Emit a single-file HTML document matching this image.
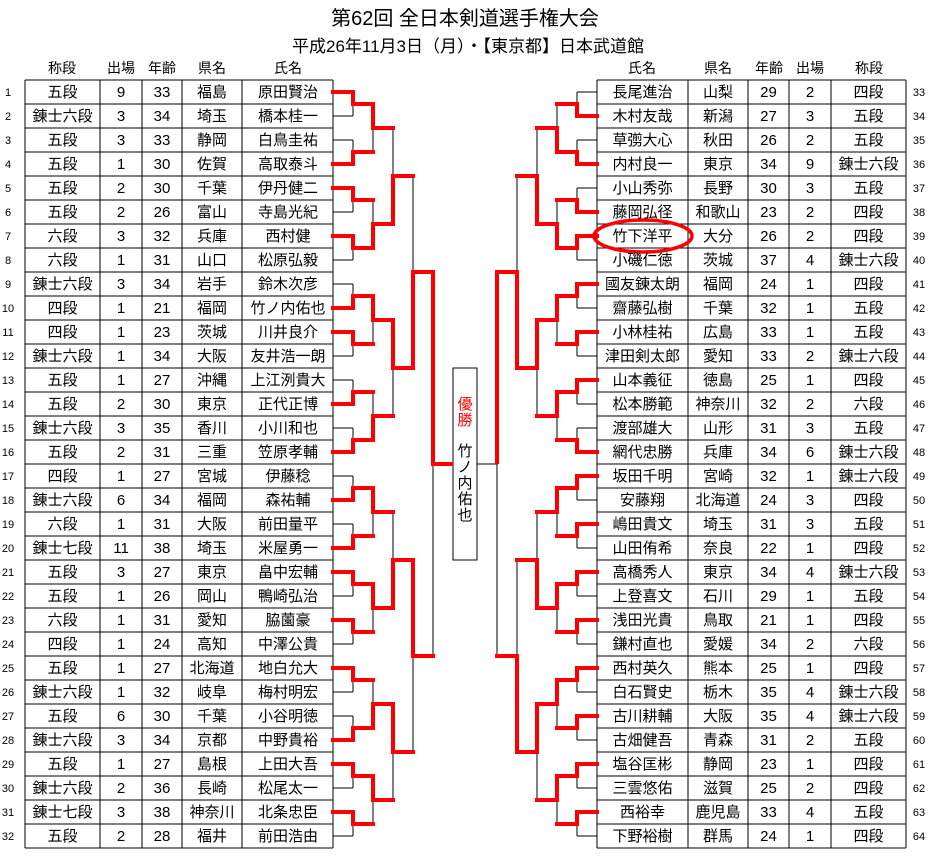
<!DOCTYPE html>
<html><head><meta charset="utf-8"><style>
html,body{margin:0;padding:0;background:#fff;}
svg{display:block;}
text{font-family:"Liberation Sans","Noto Sans CJK JP",sans-serif;}
</style></head><body>
<svg width="930" height="866" viewBox="0 0 930 866" xmlns="http://www.w3.org/2000/svg">
<text x="465" y="25" font-size="20" text-anchor="middle">第62回 全日本剣道選手権大会</text>
<text x="468" y="52" font-size="17" text-anchor="middle">平成26年11月3日（月）・【東京都】日本武道館</text>

<g font-size="14" text-anchor="middle">
<text x="62" y="73">称段</text><text x="121" y="73">出場</text><text x="162" y="73">年齢</text><text x="212" y="73">県名</text><text x="288" y="73">氏名</text>
<text x="642" y="73">氏名</text><text x="718" y="73">県名</text><text x="769" y="73">年齢</text><text x="810" y="73">出場</text><text x="869" y="73">称段</text>
</g>

<g stroke="#000" stroke-width="1" fill="none" shape-rendering="crispEdges">
<path d="M25 80h308m-308 24h308m-308 24h308m-308 24h308m-308 24h308m-308 24h308m-308 24h308m-308 24h308m-308 24h308m-308 24h308m-308 24h308m-308 24h308m-308 24h308m-308 24h308m-308 24h308m-308 24h308m-308 24h308m-308 24h308m-308 24h308m-308 24h308m-308 24h308m-308 24h308m-308 24h308m-308 24h308m-308 24h308m-308 24h308m-308 24h308m-308 24h308m-308 24h308m-308 24h308m-308 24h308m-308 24h308m-308 24h308"/>
<path d="M25 80V848M100 80V848M142 80V848M182 80V848M242 80V848M333 80V848"/>
<path d="M597 80h309m-309 24h309m-309 24h309m-309 24h309m-309 24h309m-309 24h309m-309 24h309m-309 24h309m-309 24h309m-309 24h309m-309 24h309m-309 24h309m-309 24h309m-309 24h309m-309 24h309m-309 24h309m-309 24h309m-309 24h309m-309 24h309m-309 24h309m-309 24h309m-309 24h309m-309 24h309m-309 24h309m-309 24h309m-309 24h309m-309 24h309m-309 24h309m-309 24h309m-309 24h309m-309 24h309m-309 24h309m-309 24h309"/>
<path d="M597 80V848M688 80V848M748 80V848M789 80V848M831 80V848M906 80V848"/>
<path d="M333 92h20m-20 24h20m-20 24h20m-20 24h20m-20 24h20m-20 24h20m-20 24h20m-20 24h20m-20 24h20m-20 24h20m-20 24h20m-20 24h20m-20 24h20m-20 24h20m-20 24h20m-20 24h20m-20 24h20m-20 24h20m-20 24h20m-20 24h20m-20 24h20m-20 24h20m-20 24h20m-20 24h20m-20 24h20m-20 24h20m-20 24h20m-20 24h20m-20 24h20m-20 24h20m-20 24h20m-20 24h20"/>
<path d="M353 92V116M353 140V164M353 188V212M353 236V260M353 284V308M353 332V356M353 380V404M353 428V452M353 476V500M353 524V548M353 572V596M353 620V644M353 668V692M353 716V740M353 764V788M353 812V836"/>
<path d="M373 104V152M373 200V248M373 296V344M373 392V440M373 488V536M373 584V632M373 680V728M373 776V824"/>
<path d="M393 128V224M393 320V416M393 512V608M393 704V800M413 176V368M413 560V752M433 272V656"/>
<path d="M577 92h20m-20 24h20m-20 24h20m-20 24h20m-20 24h20m-20 24h20m-20 24h20m-20 24h20m-20 24h20m-20 24h20m-20 24h20m-20 24h20m-20 24h20m-20 24h20m-20 24h20m-20 24h20m-20 24h20m-20 24h20m-20 24h20m-20 24h20m-20 24h20m-20 24h20m-20 24h20m-20 24h20m-20 24h20m-20 24h20m-20 24h20m-20 24h20m-20 24h20m-20 24h20m-20 24h20m-20 24h20"/>
<path d="M577 92V116M577 140V164M577 188V212M577 236V260M577 284V308M577 332V356M577 380V404M577 428V452M577 476V500M577 524V548M577 572V596M577 620V644M577 668V692M577 716V740M577 764V788M577 812V836"/>
<path d="M557 104V152M557 200V248M557 296V344M557 392V440M557 488V536M557 584V632M557 680V728M557 776V824"/>
<path d="M537 128V224M537 320V416M537 512V608M537 704V800M517 176V368M517 560V752M497 272V656"/>
<path d="M477 464H497"/>
<rect x="453" y="368" width="24" height="192" fill="#fff"/>
</g>

<g stroke="#ff0000" stroke-width="4" fill="none" stroke-linecap="square">
<path d="M333 92H353V104H373M333 164H353V152H373M333 188H353V200H373M333 236H353V248H373M333 308H353V296H373M333 332H353V344H373M333 404H353V392H373M333 452H353V440H373M333 500H353V488H373M333 548H353V536H373M333 572H353V584H373M333 620H353V632H373M333 668H353V680H373M333 740H353V728H373M333 764H353V776H373M333 812H353V824H373"/>
<path d="M373 104V128H393M373 248V224H393M373 296V320H393M373 440V416H393M373 488V512H393M373 584V608H393M373 728V704H393M373 776V800H393"/>
<path d="M393 224V176H413M393 320V368H413M393 608V560H413M393 704V752H413"/>
<path d="M413 368V272H433M413 560V656H433"/>
<path d="M433 272V464H451"/>
<path d="M597 116H577V104H557M597 164H577V152H557M597 212H577V200H557M597 236H577V248H557M597 284H577V296H557M597 332H577V344H557M597 380H577V392H557M597 452H577V440H557M597 476H577V488H557M597 524H577V536H557M597 572H577V584H557M597 620H577V632H557M597 668H577V680H557M597 716H577V728H557M597 764H577V776H557M597 812H577V824H557"/>
<path d="M557 152V128H537M557 248V224H537M557 296V320H537M557 392V416H537M557 488V512H537M557 584V608H537M557 680V704H537M557 776V800H537"/>
<path d="M537 224V176H517M537 320V368H517M537 608V560H517M537 704V752H517"/>
<path d="M517 368V272H497M517 752V656H497"/>
<path d="M497 272V462"/>
</g>
<ellipse cx="643" cy="236" rx="49" ry="16" fill="none" stroke="#ff0000" stroke-width="3.5"/>

<g font-size="15" text-anchor="middle">
<text x="465" y="409" fill="#ff0000">優</text>
<text x="465" y="425" fill="#ff0000">勝</text>
<text x="465" y="456">竹</text>
<text x="465" y="472">ノ</text>
<text x="465" y="488">内</text>
<text x="465" y="504">佑</text>
<text x="465" y="520">也</text>
</g>

<g font-size="11" text-anchor="middle">
<text x="8" y="96">1</text><text x="8" y="120">2</text><text x="8" y="144">3</text><text x="8" y="168">4</text><text x="8" y="192">5</text><text x="8" y="216">6</text><text x="8" y="240">7</text><text x="8" y="264">8</text><text x="8" y="288">9</text><text x="8" y="312">10</text><text x="8" y="336">11</text><text x="8" y="360">12</text><text x="8" y="384">13</text><text x="8" y="408">14</text><text x="8" y="432">15</text><text x="8" y="456">16</text><text x="8" y="480">17</text><text x="8" y="504">18</text><text x="8" y="528">19</text><text x="8" y="552">20</text><text x="8" y="576">21</text><text x="8" y="600">22</text><text x="8" y="624">23</text><text x="8" y="648">24</text><text x="8" y="672">25</text><text x="8" y="696">26</text><text x="8" y="720">27</text><text x="8" y="744">28</text><text x="8" y="768">29</text><text x="8" y="792">30</text><text x="8" y="816">31</text><text x="8" y="840">32</text>
<text x="919" y="96">33</text><text x="919" y="120">34</text><text x="919" y="144">35</text><text x="919" y="168">36</text><text x="919" y="192">37</text><text x="919" y="216">38</text><text x="919" y="240">39</text><text x="919" y="264">40</text><text x="919" y="288">41</text><text x="919" y="312">42</text><text x="919" y="336">43</text><text x="919" y="360">44</text><text x="919" y="384">45</text><text x="919" y="408">46</text><text x="919" y="432">47</text><text x="919" y="456">48</text><text x="919" y="480">49</text><text x="919" y="504">50</text><text x="919" y="528">51</text><text x="919" y="552">52</text><text x="919" y="576">53</text><text x="919" y="600">54</text><text x="919" y="624">55</text><text x="919" y="648">56</text><text x="919" y="672">57</text><text x="919" y="696">58</text><text x="919" y="720">59</text><text x="919" y="744">60</text><text x="919" y="768">61</text><text x="919" y="792">62</text><text x="919" y="816">63</text><text x="919" y="840">64</text>
</g>

<g font-size="15" text-anchor="middle">
<g transform="translate(62.5,0)">
<text y="97">五段</text><text y="121">錬士六段</text><text y="145">五段</text><text y="169">五段</text><text y="193">五段</text><text y="217">五段</text><text y="241">六段</text><text y="265">六段</text><text y="289">錬士六段</text><text y="313">四段</text><text y="337">四段</text><text y="361">錬士六段</text><text y="385">五段</text><text y="409">五段</text><text y="433">錬士六段</text><text y="457">五段</text><text y="481">四段</text><text y="505">錬士六段</text><text y="529">六段</text><text y="553">錬士七段</text><text y="577">五段</text><text y="601">五段</text><text y="625">六段</text><text y="649">四段</text><text y="673">五段</text><text y="697">錬士六段</text><text y="721">五段</text><text y="745">錬士六段</text><text y="769">五段</text><text y="793">錬士六段</text><text y="817">錬士七段</text><text y="841">五段</text>
</g>
<g transform="translate(121,0)">
<text y="97">9</text><text y="121">3</text><text y="145">3</text><text y="169">1</text><text y="193">2</text><text y="217">2</text><text y="241">3</text><text y="265">1</text><text y="289">3</text><text y="313">1</text><text y="337">1</text><text y="361">1</text><text y="385">1</text><text y="409">2</text><text y="433">3</text><text y="457">2</text><text y="481">1</text><text y="505">6</text><text y="529">1</text><text y="553">11</text><text y="577">3</text><text y="601">1</text><text y="625">1</text><text y="649">1</text><text y="673">1</text><text y="697">1</text><text y="721">6</text><text y="745">3</text><text y="769">1</text><text y="793">2</text><text y="817">3</text><text y="841">2</text>
</g>
<g transform="translate(162,0)">
<text y="97">33</text><text y="121">34</text><text y="145">33</text><text y="169">30</text><text y="193">30</text><text y="217">26</text><text y="241">32</text><text y="265">31</text><text y="289">34</text><text y="313">21</text><text y="337">23</text><text y="361">34</text><text y="385">27</text><text y="409">30</text><text y="433">35</text><text y="457">31</text><text y="481">27</text><text y="505">34</text><text y="529">31</text><text y="553">38</text><text y="577">27</text><text y="601">26</text><text y="625">31</text><text y="649">24</text><text y="673">27</text><text y="697">32</text><text y="721">30</text><text y="745">34</text><text y="769">27</text><text y="793">36</text><text y="817">38</text><text y="841">28</text>
</g>
<g transform="translate(212,0)">
<text y="97">福島</text><text y="121">埼玉</text><text y="145">静岡</text><text y="169">佐賀</text><text y="193">千葉</text><text y="217">富山</text><text y="241">兵庫</text><text y="265">山口</text><text y="289">岩手</text><text y="313">福岡</text><text y="337">茨城</text><text y="361">大阪</text><text y="385">沖縄</text><text y="409">東京</text><text y="433">香川</text><text y="457">三重</text><text y="481">宮城</text><text y="505">福岡</text><text y="529">大阪</text><text y="553">埼玉</text><text y="577">東京</text><text y="601">岡山</text><text y="625">愛知</text><text y="649">高知</text><text y="673">北海道</text><text y="697">岐阜</text><text y="721">千葉</text><text y="745">京都</text><text y="769">島根</text><text y="793">長崎</text><text y="817">神奈川</text><text y="841">福井</text>
</g>
<g transform="translate(288,0)">
<text y="97">原田賢治</text><text y="121">橋本桂一</text><text y="145">白鳥圭祐</text><text y="169">高取泰斗</text><text y="193">伊丹健二</text><text y="217">寺島光紀</text><text y="241">西村健</text><text y="265">松原弘毅</text><text y="289">鈴木次彦</text><text y="313">竹ノ内佑也</text><text y="337">川井良介</text><text y="361">友井浩一朗</text><text y="385">上江洌貴大</text><text y="409">正代正博</text><text y="433">小川和也</text><text y="457">笠原孝輔</text><text y="481">伊藤稔</text><text y="505">森祐輔</text><text y="529">前田量平</text><text y="553">米屋勇一</text><text y="577">畠中宏輔</text><text y="601">鴨崎弘治</text><text y="625">脇薗豪</text><text y="649">中澤公貴</text><text y="673">地白允大</text><text y="697">梅村明宏</text><text y="721">小谷明徳</text><text y="745">中野貴裕</text><text y="769">上田大吾</text><text y="793">松尾太一</text><text y="817">北条忠臣</text><text y="841">前田浩由</text>
</g>
<g transform="translate(642.5,0)">
<text y="97">長尾進治</text><text y="121">木村友哉</text><text y="145">草彅大心</text><text y="169">内村良一</text><text y="193">小山秀弥</text><text y="217">藤岡弘径</text><text y="241">竹下洋平</text><text y="265">小磯仁徳</text><text y="289">國友錬太朗</text><text y="313">齋藤弘樹</text><text y="337">小林桂祐</text><text y="361">津田剣太郎</text><text y="385">山本義征</text><text y="409">松本勝範</text><text y="433">渡部雄大</text><text y="457">網代忠勝</text><text y="481">坂田千明</text><text y="505">安藤翔</text><text y="529">嶋田貴文</text><text y="553">山田侑希</text><text y="577">高橋秀人</text><text y="601">上登喜文</text><text y="625">浅田光貴</text><text y="649">鎌村直也</text><text y="673">西村英久</text><text y="697">白石賢史</text><text y="721">古川耕輔</text><text y="745">古畑健吾</text><text y="769">塩谷匡彬</text><text y="793">三雲悠佑</text><text y="817">西裕幸</text><text y="841">下野裕樹</text>
</g>
<g transform="translate(718,0)">
<text y="97">山梨</text><text y="121">新潟</text><text y="145">秋田</text><text y="169">東京</text><text y="193">長野</text><text y="217">和歌山</text><text y="241">大分</text><text y="265">茨城</text><text y="289">福岡</text><text y="313">千葉</text><text y="337">広島</text><text y="361">愛知</text><text y="385">徳島</text><text y="409">神奈川</text><text y="433">山形</text><text y="457">兵庫</text><text y="481">宮崎</text><text y="505">北海道</text><text y="529">埼玉</text><text y="553">奈良</text><text y="577">東京</text><text y="601">石川</text><text y="625">鳥取</text><text y="649">愛媛</text><text y="673">熊本</text><text y="697">栃木</text><text y="721">大阪</text><text y="745">青森</text><text y="769">静岡</text><text y="793">滋賀</text><text y="817">鹿児島</text><text y="841">群馬</text>
</g>
<g transform="translate(768.5,0)">
<text y="97">29</text><text y="121">27</text><text y="145">26</text><text y="169">34</text><text y="193">30</text><text y="217">23</text><text y="241">26</text><text y="265">37</text><text y="289">24</text><text y="313">32</text><text y="337">33</text><text y="361">33</text><text y="385">25</text><text y="409">32</text><text y="433">31</text><text y="457">34</text><text y="481">32</text><text y="505">24</text><text y="529">31</text><text y="553">22</text><text y="577">34</text><text y="601">29</text><text y="625">21</text><text y="649">34</text><text y="673">25</text><text y="697">35</text><text y="721">35</text><text y="745">31</text><text y="769">23</text><text y="793">25</text><text y="817">33</text><text y="841">24</text>
</g>
<g transform="translate(810,0)">
<text y="97">2</text><text y="121">3</text><text y="145">2</text><text y="169">9</text><text y="193">3</text><text y="217">2</text><text y="241">2</text><text y="265">4</text><text y="289">1</text><text y="313">1</text><text y="337">1</text><text y="361">2</text><text y="385">1</text><text y="409">2</text><text y="433">3</text><text y="457">6</text><text y="481">1</text><text y="505">3</text><text y="529">3</text><text y="553">1</text><text y="577">4</text><text y="601">1</text><text y="625">1</text><text y="649">2</text><text y="673">1</text><text y="697">4</text><text y="721">4</text><text y="745">2</text><text y="769">1</text><text y="793">2</text><text y="817">4</text><text y="841">1</text>
</g>
<g transform="translate(868.5,0)">
<text y="97">四段</text><text y="121">五段</text><text y="145">五段</text><text y="169">錬士六段</text><text y="193">五段</text><text y="217">四段</text><text y="241">四段</text><text y="265">錬士六段</text><text y="289">四段</text><text y="313">五段</text><text y="337">五段</text><text y="361">錬士六段</text><text y="385">四段</text><text y="409">六段</text><text y="433">五段</text><text y="457">錬士六段</text><text y="481">錬士六段</text><text y="505">四段</text><text y="529">五段</text><text y="553">四段</text><text y="577">錬士六段</text><text y="601">五段</text><text y="625">四段</text><text y="649">六段</text><text y="673">四段</text><text y="697">錬士六段</text><text y="721">錬士六段</text><text y="745">五段</text><text y="769">四段</text><text y="793">四段</text><text y="817">五段</text><text y="841">四段</text>
</g>
</g>
</svg>
</body></html>
